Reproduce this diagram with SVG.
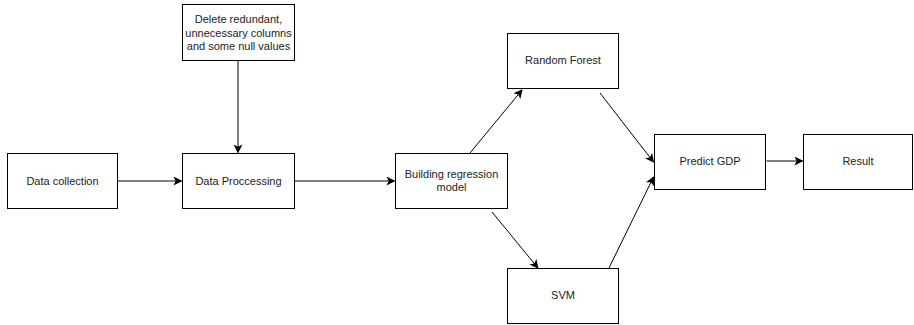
<svg xmlns="http://www.w3.org/2000/svg" width="914" height="325" viewBox="0 0 914 325">
<style>
.box{fill:#fff;stroke:#000;stroke-width:1}
.t{font-family:"Liberation Sans",Arial,sans-serif;font-size:11px;fill:#222;text-anchor:middle}
.c{fill:none;stroke:#000;stroke-width:1;marker-end:url(#a)}
</style>
<defs>
<marker id="a" viewBox="0 0 10 10" refX="9" refY="5" markerWidth="9" markerHeight="9" markerUnits="userSpaceOnUse" orient="auto">
<path d="M0,0 L10,5 L0,10 L2.5,5 Z" fill="#000"/>
</marker>
</defs>
<rect width="914" height="325" fill="#fff"/>
<g id="connectors">
<line class="c" x1="117.5" y1="181" x2="181.5" y2="181"/>
<line class="c" x1="238" y1="60.5" x2="238" y2="152.5"/>
<line class="c" x1="294.5" y1="181" x2="394.5" y2="181"/>
<line class="c" x1="470" y1="153" x2="522" y2="90"/>
<line class="c" x1="492" y1="212" x2="538" y2="268"/>
<line class="c" x1="600" y1="93" x2="653.5" y2="162"/>
<line class="c" x1="609" y1="268" x2="653.5" y2="177"/>
<line class="c" x1="766.5" y1="161" x2="802.5" y2="161"/>
</g>
<g id="data-collection">
<rect class="box" x="7.5" y="153.5" width="110" height="55"/>
<text class="t" x="62.5" y="184.5">Data collection</text>
</g>
<g id="delete">
<rect class="box" x="182.5" y="4.5" width="112" height="56"/>
<text class="t" x="238.5" y="23">Delete redundant,</text>
<text class="t" x="238.5" y="37">unnecessary columns</text>
<text class="t" x="238.5" y="50">and some null values</text>
</g>
<g id="data-processing">
<rect class="box" x="182.5" y="153.5" width="112" height="55"/>
<text class="t" x="238.5" y="184.5">Data Proccessing</text>
</g>
<g id="building">
<rect class="box" x="395.5" y="153.5" width="112" height="55"/>
<text class="t" x="451.5" y="177.5">Building regression</text>
<text class="t" x="451.5" y="190.5">model</text>
</g>
<g id="random-forest">
<rect class="box" x="507.5" y="33.5" width="111" height="55"/>
<text class="t" x="563" y="63.5">Random Forest</text>
</g>
<g id="svm">
<rect class="box" x="507.5" y="268.5" width="111" height="55"/>
<text class="t" x="563" y="298.5">SVM</text>
</g>
<g id="predict">
<rect class="box" x="654.5" y="134.5" width="111" height="55"/>
<text class="t" x="710" y="165">Predict GDP</text>
</g>
<g id="result">
<rect class="box" x="803.5" y="134.5" width="109" height="55"/>
<text class="t" x="858" y="165">Result</text>
</g>
</svg>
